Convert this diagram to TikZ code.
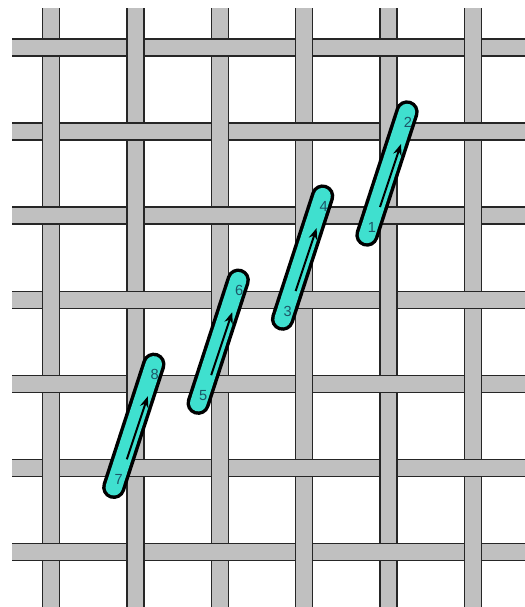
\documentclass[tikz,border=0pt]{standalone}
\usepackage{fontspec}
\setmainfont{Liberation Sans}
\usepackage{xcolor}
\definecolor{cBar}{HTML}{C0C0C0}
\definecolor{cEdge}{HTML}{262626}
\definecolor{cThread}{HTML}{3FE0CF}
\definecolor{cNum}{HTML}{1D5566}
\usetikzlibrary{arrows.meta}
\tikzset{
  bar-fill/.style={fill=cBar},
  bar-edge/.style={draw=cEdge,line width=1.35pt},
  stitch-outline/.style={draw=black,line width=20pt,line cap=round},
  stitch-fill/.style={draw=cThread,line width=14pt,line cap=round},
  stitch-num/.style={font=\fontsize{12.5}{12.5}\selectfont,text=cNum,inner sep=0pt},
  arrow/.style={-{Stealth[length=3.4mm,width=2.6mm]},line width=1.7pt,draw=black},
}

\begin{document}
\begin{tikzpicture}[x=0.03cm,y=-0.03cm]
  \useasboundingbox (0,0) rectangle (525,607);

  % horizontal threads
  \foreach \j in {0,...,6}{
    \pgfmathsetmacro\ry{47.5+84.1*\j}
    \fill[bar-fill] (12,\ry-8.5) rectangle (525,\ry+8.5);
    \draw[bar-edge] (12,\ry-8.5) -- (525,\ry-8.5) (12,\ry+8.5) -- (525,\ry+8.5);
  }
  % vertical threads
  \foreach \i in {0,...,5}{
    \pgfmathsetmacro\cx{51+84.4*\i}
    \fill[bar-fill] (\cx-8.5,8) rectangle (\cx+8.5,607);
    \draw[bar-edge] (\cx-8.5,8) -- (\cx-8.5,607) (\cx+8.5,8) -- (\cx+8.5,607);
  }
  % weave: horizontal thread goes over every other crossing
  \foreach \i in {0,...,5}{
    \foreach \j in {0,...,6}{
      \pgfmathtruncatemacro\odd{mod(\i+\j,2)}
      \pgfmathsetmacro\cx{51+84.4*\i}
      \pgfmathsetmacro\ry{47.5+84.1*\j}
      \ifnum\odd=0
        \fill[bar-fill] (\cx-9.8,\ry-8.5) rectangle (\cx+9.8,\ry+8.5);
        \draw[bar-edge] (\cx-9.8,\ry-8.5) -- (\cx+9.8,\ry-8.5) (\cx-9.8,\ry+8.5) -- (\cx+9.8,\ry+8.5);
      \fi
    }
  }

  % stitches
  \foreach \k/\lo/\hi in {0/1/2,1/3/4,2/5/6,3/7/8}{
    \coordinate (b\lo) at (367-84.4*\k,235+84.1*\k);
    \coordinate (t\hi) at (407-84.4*\k,112+84.1*\k);
    \draw[stitch-outline] (b\lo) -- (t\hi);
    \draw[stitch-fill] (b\lo) -- (t\hi);
    \node[stitch-num] (n\lo) at ([shift={(5,-8)}]b\lo) {\lo};
    \node[stitch-num] (n\hi) at ([shift={(1,10)}]t\hi) {\hi};
    \coordinate (s\lo) at ([shift={(13,-28)}]b\lo);
    \coordinate (e\hi) at ([shift={(-6,32)}]t\hi);
    \draw[arrow] (s\lo) -- (e\hi);
  }
\end{tikzpicture}
\end{document}
